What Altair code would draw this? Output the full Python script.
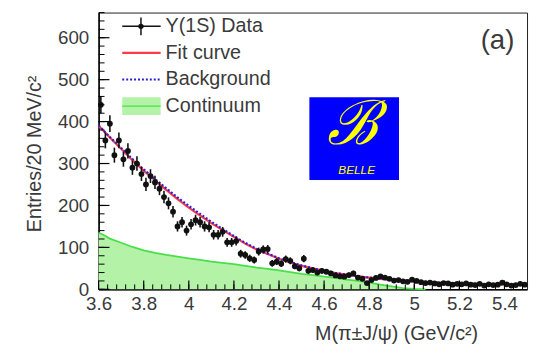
import altair as alt
import pandas as pd

# ---------------- data ----------------
# bin centres (20 MeV bins) and entries
mass = [round(3.61 + 0.02 * i, 2) for i in range(95)]
entries = [440, 355, 395, 320, 355, 310, 330, 290, 300, 275,
           250, 270, 255, 240, 220, 205, 185, 150, 160, 140,
           155, 165, 160, 150, 148, 130, 130, 137, 112, 112,
           115, 85, 82, 74, 70, 90, 95, 96, 62, 66,
           61, 72, 68, 55, 50, 73, 44, 46, 40, 44,
           42, 38, 33, 31, 30, 34, 38, 28, 25, 15,
           22, 27, 31, 28, 25, 21, 22, 19, 18, 23,
           20, 17, 15, 16, 14, 12, 15, 14, 11, 13,
           12, 14, 11, 10, 13, 9, 12, 10, 11, 16,
           12, 9, 10, 13, 11]

fit_m = [3.60, 3.65, 3.70, 3.75, 3.80, 3.85, 3.90, 3.95, 4.00, 4.05, 4.10, 4.15,
         4.20, 4.25, 4.30, 4.35, 4.40, 4.45, 4.50, 4.55, 4.60, 4.65, 4.70, 4.75,
         4.80, 4.85, 4.90, 4.95, 5.00, 5.10, 5.20, 5.30, 5.40, 5.50]
fit_v = [390, 362, 335, 308, 283, 260, 237, 215, 195, 176, 158, 141,
         125, 109, 95, 84, 73, 64, 56, 50, 44, 39, 35, 31,
         28, 25, 23, 21, 19, 16, 14, 12.5, 11.5, 10.5]
bkg_v = [391, 363, 337, 311, 286, 263, 241, 219, 199, 180, 161, 144,
         127, 111, 97, 85, 74, 65, 57, 50, 44, 39, 35, 31,
         28, 25, 23, 21, 19, 16, 14, 12.5, 11.5, 10.5]

cont_m = [3.60, 3.62, 3.65, 3.70, 3.75, 3.80, 3.85, 3.90, 3.95, 4.00, 4.05, 4.10,
          4.15, 4.20, 4.25, 4.30, 4.35, 4.40, 4.45, 4.50, 4.55, 4.60, 4.65, 4.70,
          4.75, 4.80, 4.85, 4.90, 4.95, 5.00, 5.05]
cont_v = [135, 130, 121, 111, 101, 93, 87, 82, 78, 74, 70, 66,
          63, 60, 56, 52, 49, 45, 41, 37, 34, 30, 27, 23,
          20, 16, 11, 7, 3, 1, 0]

x_labels = [3.6, 3.8, 4.0, 4.2, 4.4, 4.6, 4.8, 5.0, 5.2, 5.4]
y_labels = [0, 100, 200, 300, 400, 500, 600]
x_major = x_labels
x_minor = [round(3.6 + 0.04 * i, 2) for i in range(48)]
y_major = y_labels
y_minor = list(range(0, 661, 20))

legend_labels = ["\u03a5(1S) Data", "Fit curve", "Background", "Continuum"]

# ---------------- layout / style ----------------
W, H = 435, 281
FONT = "Liberation Sans"
TXT = "#3a3a3a"

xs = alt.Scale(domain=[3.6, 5.5], nice=False, zero=False)
ys = alt.Scale(domain=[0, 660], nice=False)

pts = pd.DataFrame({"m": mass, "v": entries})
fit = pd.DataFrame({"m": fit_m, "v": fit_v})
bkg = pd.DataFrame({"m": fit_m, "v": bkg_v})
cont = pd.DataFrame({"m": cont_m, "v": cont_v})

x_axis = alt.Axis(values=x_labels, format=".1~f", labelFontSize=19, labelFont=FONT,
                  labelColor=TXT, ticks=False, grid=False, domainColor="#000",
                  domainWidth=1.5, labelPadding=6, labelFlush=False,
                  title="M(\u03c0\u00b1J/\u03c8) (GeV/c\u00b2)", titleFont=FONT,
                  titleFontSize=20, titleFontWeight="normal", titleColor=TXT,
                  titleX=302, titleY=45, titleAlign="center", titleBaseline="middle")
y_axis = alt.Axis(values=y_labels, labelFontSize=19, labelFont=FONT, labelColor=TXT,
                  ticks=False, grid=False, domainColor="#000", domainWidth=1.5,
                  labelPadding=10, labelFlush=False,
                  title="Entries/20 MeV/c\u00b2", titleFont=FONT, titleFontSize=20,
                  titleFontWeight="normal", titleColor=TXT, titleAngle=-90,
                  titleX=-65, titleY=143, titleAlign="center", titleBaseline="middle")

continuum = alt.Chart(cont).mark_area(
    color="#b4f2a8", opacity=1, line={"color": "#48e048", "strokeWidth": 1.8}
).encode(x=alt.X("m:Q", scale=xs, axis=x_axis),
         y=alt.Y("v:Q", scale=ys, axis=y_axis))

red = alt.Chart(fit).mark_line(color="#ff3a4a", strokeWidth=2.2).encode(
    x="m:Q", y="v:Q")
blue = alt.Chart(bkg).mark_line(color="#2a1fd0", strokeWidth=2.2,
                                strokeDash=[2, 2]).encode(x="m:Q", y="v:Q")

err = alt.Chart(pts).transform_calculate(
    lo="datum.v - sqrt(datum.v)", hi="datum.v + sqrt(datum.v)"
).mark_rule(color="#111", strokeWidth=1.6).encode(x="m:Q", y="lo:Q", y2="hi:Q")
herr = alt.Chart(pts).transform_calculate(
    xl="datum.m - 0.01", xh="datum.m + 0.01"
).mark_rule(color="#111", strokeWidth=1.6).encode(x="xl:Q", x2="xh:Q", y="v:Q")
dots = alt.Chart(pts).mark_circle(color="#111", size=34, opacity=1).encode(
    x="m:Q", y="v:Q")

# inward axis ticks
xmaj = alt.Chart(pd.DataFrame({"t": x_major})).mark_rule(color="#000", strokeWidth=1.2).encode(
    x="t:Q", y=alt.value(H), y2=alt.value(H - 9))
xmin = alt.Chart(pd.DataFrame({"t": x_minor})).mark_rule(color="#000", strokeWidth=1).encode(
    x="t:Q", y=alt.value(H), y2=alt.value(H - 5))
ymaj = alt.Chart(pd.DataFrame({"t": y_major})).mark_rule(color="#000", strokeWidth=1.2).encode(
    y="t:Q", x=alt.value(0), x2=alt.value(11))
ymin = alt.Chart(pd.DataFrame({"t": y_minor})).mark_rule(color="#000", strokeWidth=1).encode(
    y="t:Q", x=alt.value(0), x2=alt.value(6))

one = pd.DataFrame({"a": [0]})


def label(text, ypix):
    return alt.Chart(one).mark_text(align="left", baseline="middle", font=FONT,
                                    fontSize=20, color=TXT).encode(
        text=alt.value(text), x=alt.value(68), y=alt.value(ypix))


# legend
ROWS = [14, 41, 68, 95]
leg_texts = [label(t, r) for t, r in zip(legend_labels, ROWS)]
LX1, LX2 = 24, 63
leg_dline = alt.Chart(one).mark_rule(color="#111", strokeWidth=1.5).encode(
    x=alt.value(LX1), x2=alt.value(LX2), y=alt.value(ROWS[0]))
leg_dbar = alt.Chart(one).mark_rule(color="#111", strokeWidth=1.5).encode(
    x=alt.value(43), y=alt.value(ROWS[0] - 9), y2=alt.value(ROWS[0] + 9))
leg_dot = alt.Chart(one).mark_point(color="#111", filled=True, size=30, opacity=1).encode(
    x=alt.value(43), y=alt.value(ROWS[0]))
leg_red = alt.Chart(one).mark_rule(color="#ff3a4a", strokeWidth=2.2).encode(
    x=alt.value(LX1), x2=alt.value(LX2), y=alt.value(ROWS[1]))
leg_blue = alt.Chart(one).mark_rule(color="#2a1fd0", strokeWidth=2.2, strokeDash=[2, 2]).encode(
    x=alt.value(LX1), x2=alt.value(LX2), y=alt.value(ROWS[2]))
leg_box = alt.Chart(one).mark_rect(color="#b4f2a8").encode(
    x=alt.value(LX1), x2=alt.value(LX2), y=alt.value(ROWS[3] - 9), y2=alt.value(ROWS[3] + 9))
leg_boxline = alt.Chart(one).mark_rule(color="#48e048", strokeWidth=1.5).encode(
    x=alt.value(LX1), x2=alt.value(LX2), y=alt.value(ROWS[3]))

panel = alt.Chart(one).mark_text(font=FONT, fontSize=28, color=TXT, align="center",
                                 baseline="middle").encode(
    text=alt.value("(a)"), x=alt.value(405), y=alt.value(29))

# Belle logo
logo_bg = alt.Chart(one).mark_rect(color="#0000ff").encode(
    x=alt.value(214), x2=alt.value(305), y=alt.value(86), y2=alt.value(170))
logo_b = alt.Chart(one).mark_text(font="DejaVu Serif", fontSize=62, color="#ffff00",
                                  fontStyle="italic", align="center", baseline="middle").encode(
    text=alt.value("\u212c"), x=alt.value(258), y=alt.value(114))
logo_t = alt.Chart(one).mark_text(font=FONT, fontSize=12, color="#ffff00",
                                  fontStyle="italic", align="center", baseline="middle").encode(
    text=alt.value("BELLE"), x=alt.value(262), y=alt.value(160))

chart = alt.layer(
    continuum, red, blue, err, herr, dots, xmaj, xmin, ymaj, ymin,
    leg_box, leg_boxline, leg_dline, leg_dbar, leg_dot, leg_red, leg_blue, *leg_texts,
    panel, logo_bg, logo_b, logo_t
).properties(
    width=W, height=H,
    padding={"left": 92, "top": 2, "right": 2, "bottom": 60},
    autosize=alt.AutoSizeParams(type="none"),
    background="white"
).configure_view(stroke="#222", strokeWidth=1)

chart.save("out.html", embed_options={"renderer": "svg", "actions": False})
